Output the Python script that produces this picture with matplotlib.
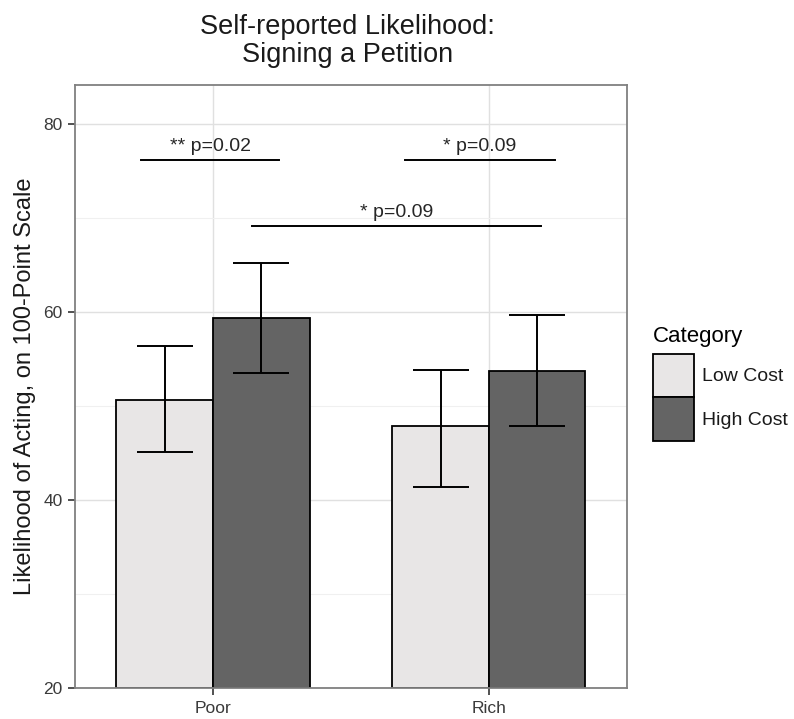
import matplotlib
matplotlib.use('Agg')
import matplotlib.pyplot as plt
import numpy as np

plt.rcParams['font.family'] = ['Liberation Sans', 'DejaVu Sans']

# --- data ---
groups = ['Poor', 'Rich']
categories = ['Low Cost', 'High Cost']
low_cost = [50.6, 47.8]
high_cost = [59.3, 53.7]
low_err_lo = [45.1, 41.4]
low_err_hi = [56.4, 53.8]
high_err_lo = [53.5, 47.8]
high_err_hi = [65.2, 59.7]

# significance brackets: (x0, x1, y, label)
sig_x0 = [0.74, 1.695, 1.14]
sig_x1 = [1.24, 2.24, 2.19]
sig_y = [76.1, 76.1, 69.1]
sig_labels = ['** p=0.02', '* p=0.09', '* p=0.09']

fill_colors = ['#e8e6e6', '#646464']

fig = plt.figure(figsize=(7.94, 7.19), dpi=100)
ax = fig.add_axes([0.0945, 0.0431, 0.695, 0.8387])

x = np.arange(1, len(groups) + 1)
w = 0.35
series = [(low_cost, low_err_lo, low_err_hi), (high_cost, high_err_lo, high_err_hi)]
handles = []
for i, (vals, lo, hi) in enumerate(series):
    xs = x + (i - 0.5) * w
    b = ax.bar(xs, np.array(vals) - 20, bottom=20, width=w, color=fill_colors[i],
               edgecolor='black', linewidth=1.3, label=categories[i], zorder=2)
    handles.append(b)
    vals = np.array(vals)
    ax.errorbar(xs, vals, yerr=[vals - np.array(lo), np.array(hi) - vals],
                fmt='none', ecolor='black', elinewidth=1.4, capsize=20,
                capthick=1.4, zorder=3)

for x0, x1, y, lab in zip(sig_x0, sig_x1, sig_y, sig_labels):
    ax.plot([x0, x1], [y, y], color='black', lw=1.4, zorder=3)
    ax.text((x0 + x1) / 2, y + 0.95, lab, ha='center', va='baseline',
            fontsize=14, color='#262626')

ax.set_xlim(0.5, 2.5)
ax.set_ylim(20, 84.1)
ax.set_xticks(x)
ax.set_xticklabels(groups)
ax.set_yticks([20, 40, 60, 80])
ax.set_yticks([30, 50, 70], minor=True)
ax.tick_params(axis='both', which='major', labelsize=12.5, labelcolor='#3a3a3a',
               color='#333333', length=5, width=1.2, pad=4)
ax.tick_params(axis='y', which='minor', length=0)
ax.grid(True, which='major', color='#e0e0e0', lw=1, zorder=0)
ax.grid(True, which='minor', axis='y', color='#f0f0f0', lw=0.8, zorder=0)
ax.set_axisbelow(True)
for s in ax.spines.values():
    s.set_color('#808080')
    s.set_linewidth(1.3)

ax.set_ylabel('Likelihood of Acting, on 100-Point Scale', fontsize=17,
              labelpad=5, color='#1a1a1a')
fig.suptitle('Self-reported Likelihood:\nSigning a Petition', fontsize=19.5,
             x=0.4377, y=0.98, linespacing=1.1, color='#1a1a1a')

leg = fig.legend(handles=handles, labels=categories, title='Category',
                 loc='upper left', bbox_to_anchor=(0.8125, 0.558), frameon=False,
                 fontsize=14, title_fontsize=16, handlelength=2.1,
                 handleheight=3.1, labelspacing=0.0, handletextpad=0.4,
                 alignment='left', borderaxespad=0)
leg._legend_box.sep = 5  # gap between title and keys
for t in leg.get_texts():
    t.set_color('#1a1a1a')

fig.savefig('out.png', dpi=100)
